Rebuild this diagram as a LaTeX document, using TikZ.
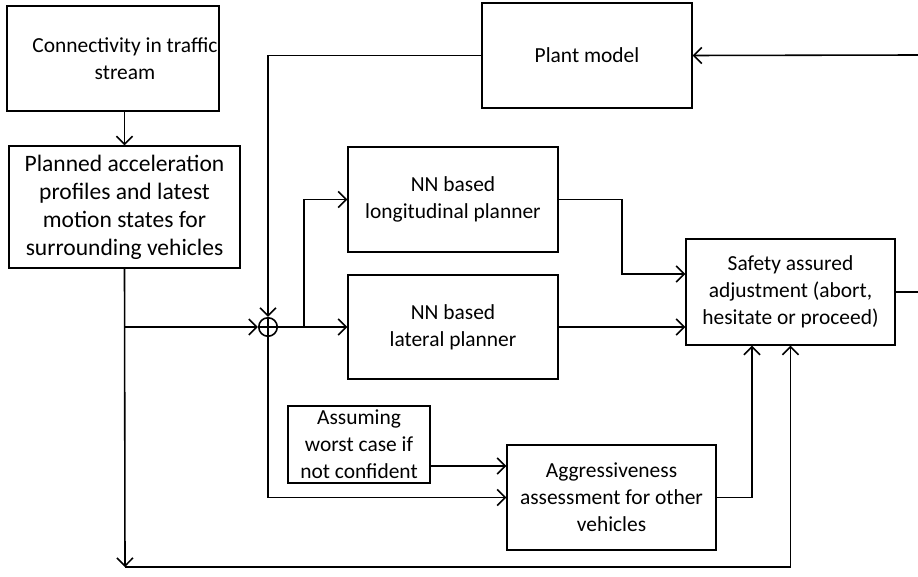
\documentclass[tikz,border=0pt]{standalone}
\usepackage{fontspec}
\setmainfont{Carlito}
\usetikzlibrary{arrows.meta}

\tikzset{
    blk/.style={draw, line width=0.8pt, align=center, inner sep=2pt,
        font=\fontsize{12.2}{15.3}\selectfont},
    conn/.style={line width=0.9pt, -{Straight Barb[length=1.6mm,width=3.2mm]}},
}
\newcommand{\shiftin}{\hspace*{0.48cm}}

\begin{document}
\begin{tikzpicture}[x=0.02cm, y=-0.02cm]
    \useasboundingbox (0,0) rectangle (918,577);

    % Blocks
    \node[blk, inner xsep=0pt, minimum width=4.24cm, minimum height=2.1cm] (traffic) at (113,58.5) {\shiftin Connectivity in traffic\\\shiftin stream};
    \node[blk, minimum width=4.62cm, minimum height=2.44cm, font=\fontsize{13.4}{15.9}\selectfont] (planned) at (124.5,207) {Planned acceleration\\profiles and latest\\motion states for\\surrounding vehicles};
    \node[blk, minimum width=4.2cm, minimum height=2.1cm] (plant) at (587,55.5) {Plant model};
    \node[blk, minimum width=4.2cm, minimum height=2.1cm] (lon) at (453,199.5) {NN based\\longitudinal planner};
    \node[blk, minimum width=4.2cm, minimum height=2.08cm] (lat) at (453,327) {NN based\\lateral planner};
    \node[blk, minimum width=4.18cm, minimum height=2.12cm] (safety) at (790.5,292) {Safety assured\\adjustment (abort,\\hesitate or proceed)};
    \node[blk, minimum width=2.84cm, minimum height=1.54cm] (assume) at (359,444.5) {Assuming\\worst case if\\not confident};
    \node[blk, minimum width=4.18cm, minimum height=2.1cm] (agg) at (611.5,497.5) {Aggressiveness\\assessment for other\\vehicles};

    % Summing junction
    \node[draw, circle, line width=0.9pt, minimum size=0.37cm, inner sep=0pt] (sum) at (268,327) {};
    \draw[line width=0.9pt] (sum.north) -- (sum.south) (sum.west) -- (sum.east);

    % Bend points and free ends
    \coordinate (fromright) at (918,55);
    \coordinate (toright) at (918,292);
    \coordinate (corner) at (125,567);
    \coordinate (split) at (304,327);
    \coordinate (lonbend) at (622,0);
    \coordinate (lonin) at (0,274);
    \coordinate (worstin) at (0,466);
    \coordinate (aggbend) at (752,0);

    % Signal paths
    \draw[conn] (planned.north |- traffic.south) -- (planned.north);
    \draw[conn] (fromright) -- (plant.east);
    \draw[conn] (plant.west) -| (sum.north);
    \draw[conn] (planned.south) -- (corner);
    \draw[conn] (corner) -| (safety.south);
    \draw[conn] (planned.south |- sum.west) -- (sum.west);
    \draw[conn] (sum.east) -- (sum.east -| lat.west);
    \draw[conn] (split) |- (lon.west);
    \draw[conn] (sum.south) |- (agg.west);
    \draw[conn] (assume.east |- worstin) -- (agg.west |- worstin);
    \draw[conn] (lon.east) -| (lonbend |- lonin) -- (safety.west |- lonin);
    \draw[conn] (lat.east) -- (lat.east -| safety.west);
    \draw[conn] (agg.east) -| (safety.south -| aggbend);
    \draw[line width=0.9pt] (safety.east) -- (toright);
\end{tikzpicture}
\end{document}
